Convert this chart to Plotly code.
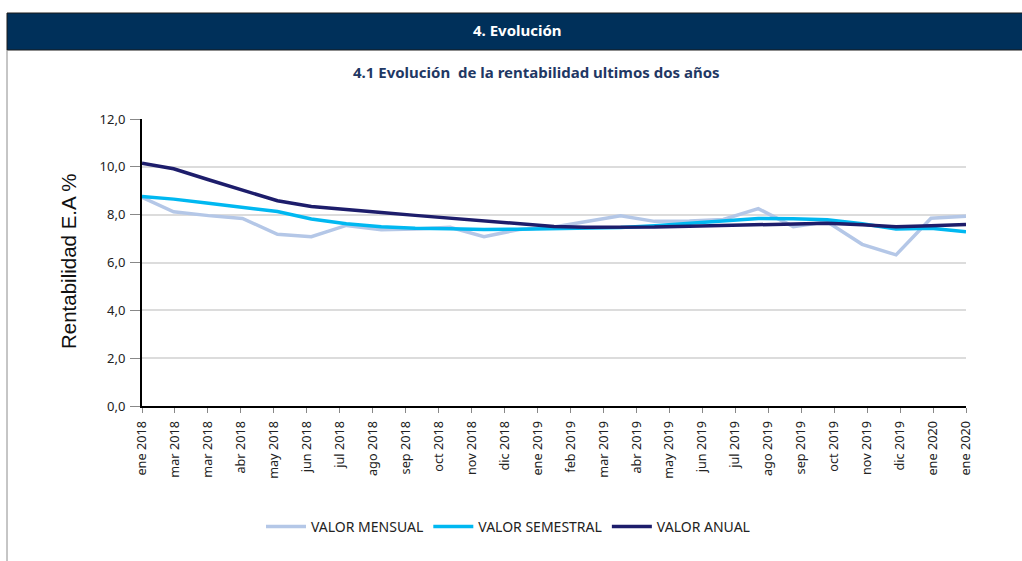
import plotly.graph_objects as go
import pandas as pd

# ---- data ----
dates = ["2018-01-31", "2018-02-28", "2018-03-31", "2018-04-30", "2018-05-31", "2018-06-30",
         "2018-07-31", "2018-08-31", "2018-09-30", "2018-10-31", "2018-11-30", "2018-12-31",
         "2019-01-31", "2019-02-28", "2019-03-31", "2019-04-30", "2019-05-31", "2019-06-30",
         "2019-07-31", "2019-08-31", "2019-09-30", "2019-10-31", "2019-11-30", "2019-12-31",
         "2020-01-31"]
valor_mensual = [8.72, 8.12, 7.96, 7.84, 7.18, 7.08, 7.55, 7.37, 7.40, 7.47, 7.08, 7.38,
                 7.48, 7.72, 7.95, 7.72, 7.73, 7.80, 8.25, 7.50, 7.70, 6.76, 6.32, 7.85,
                 7.93]
valor_semestral = [8.76, 8.65, 8.48, 8.31, 8.13, 7.82, 7.62, 7.50, 7.43, 7.41, 7.38, 7.39,
                   7.42, 7.43, 7.46, 7.54, 7.64, 7.74, 7.84, 7.83, 7.79, 7.62, 7.40, 7.43,
                   7.29]
valor_anual = [10.15, 9.92, 9.46, 9.02, 8.58, 8.34, 8.20, 8.09, 7.97, 7.85, 7.74, 7.63,
               7.51, 7.47, 7.47, 7.48, 7.52, 7.55, 7.59, 7.61, 7.64, 7.58, 7.50, 7.54,
               7.59]
tick_labels = ["ene 2018", "mar 2018", "mar 2018", "abr 2018", "may 2018", "jun 2018",
               "jul 2018", "ago 2018", "sep 2018", "oct 2018", "nov 2018", "dic 2018",
               "ene 2019", "feb 2019", "mar 2019", "abr 2019", "may 2019", "jun 2019",
               "jul 2019", "ago 2019", "sep 2019", "oct 2019", "nov 2019", "dic 2019",
               "ene 2020", "ene 2020"]
x_start, x_end = "2018-01-31", "2020-01-31"
tick_positions = pd.date_range(x_start, x_end, periods=len(tick_labels))

series = [
    ("VALOR MENSUAL", valor_mensual, "#b4c7e7"),
    ("VALOR SEMESTRAL", valor_semestral, "#00b8f1"),
    ("VALOR ANUAL", valor_anual, "#1d1d6b"),
]

fig = go.Figure()
for name, vals, color in series:
    fig.add_trace(go.Scatter(x=dates, y=vals, mode="lines", name=name,
                             line=dict(color=color, width=3.5)))

W, H = 1022, 561
L, R, T, B = 142, 966, 119, 406
pw, ph = R - L, B - T

def px(x):
    return (x - L) / pw

def py(y):
    return (B - y) / ph

font_main = "Noto Sans"

fig.update_layout(
    width=W, height=H,
    margin=dict(l=L, r=W - R, t=T, b=H - B),
    paper_bgcolor="white", plot_bgcolor="white",
    separators=",.",
    showlegend=True,
    legend=dict(orientation="h", x=px(508), xanchor="center", y=py(527), yanchor="middle",
                font=dict(family=font_main, size=14, color="#222222"),
                itemwidth=40, tracegroupgap=0),
    font=dict(family=font_main, color="#222222"),
)

fig.update_xaxes(
    type="date", range=[x_start, x_end],
    tickmode="array", tickvals=tick_positions, ticktext=tick_labels,
    tickangle=-90, tickfont=dict(family=font_main, size=12.7, color="#222222"),
    ticks="outside", ticklen=5, tickcolor="#888888", tickwidth=1,
    ticklabelstandoff=3,
    showgrid=False, showline=True, linecolor="black", linewidth=2,
    zeroline=False,
)
fig.update_yaxes(
    range=[0, 12], dtick=2, tickformat=".1f",
    tickfont=dict(family=font_main, size=13, color="#222222"),
    ticks="outside", ticklen=10, tickcolor="#888888", tickwidth=1,
    ticklabelstandoff=2,
    showgrid=True, gridcolor="#dcdcdc", gridwidth=2,
    showline=True, linecolor="black", linewidth=2, zeroline=False,
)

# header bar
fig.add_shape(type="rect", xref="paper", yref="paper",
              x0=px(7), x1=px(1024), y0=py(50), y1=py(13),
              fillcolor="#00305a", line=dict(color="#1a1a1a", width=1), layer="below")
# left border
fig.add_shape(type="line", xref="paper", yref="paper",
              x0=px(7), x1=px(7), y0=py(50), y1=py(562),
              line=dict(color="#8c8c8c", width=1))

fig.add_annotation(text="<b>4. Evolución</b>", xref="paper", yref="paper",
                   x=px(517), y=py(30), showarrow=False, xanchor="center", yanchor="middle",
                   font=dict(family=font_main, size=15, color="white"))
fig.add_annotation(text="<b>4.1 Evolución  de la rentabilidad ultimos dos años</b>",
                   xref="paper", yref="paper",
                   x=px(536), y=py(72), showarrow=False, xanchor="center", yanchor="middle",
                   font=dict(family=font_main, size=15, color="#1f3864"))
fig.add_annotation(text="Rentabilidad E.A %", xref="paper", yref="paper",
                   x=px(68), y=py(261), showarrow=False, textangle=-90,
                   xanchor="center", yanchor="middle",
                   font=dict(family="Liberation Sans", size=20.5, color="#111111"))

fig.write_html("out.html", config={"displayModeBar": False},
               post_script="document.body.style.margin='0';")
